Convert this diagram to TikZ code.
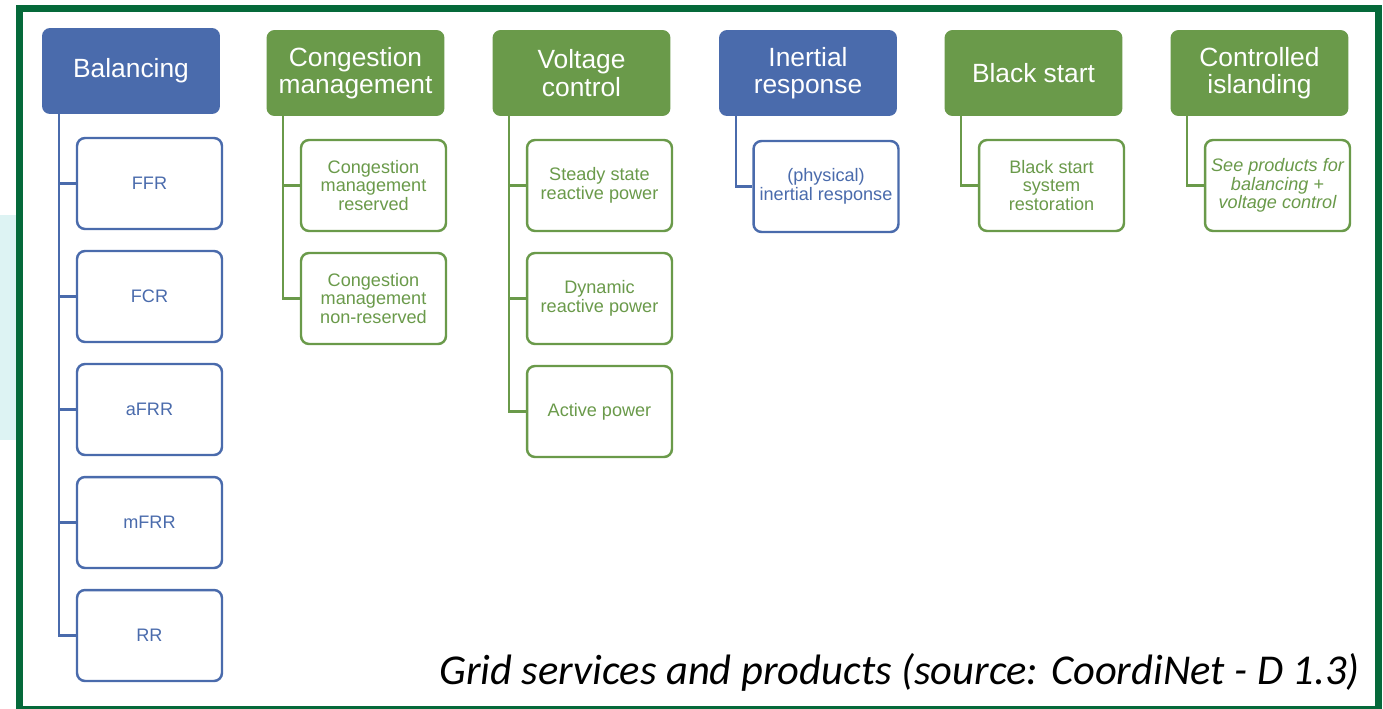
\documentclass[tikz,border=0pt]{standalone}
\usepackage{xcolor}
\usepackage{fontspec}
\setmainfont{Liberation Sans}
\newfontfamily\capfont{Carlito}
\usetikzlibrary{calc}

\definecolor{svcblue}{HTML}{4A6BAC}
\definecolor{svcgreen}{HTML}{6A9A4A}
\definecolor{framegreen}{HTML}{05693A}
\definecolor{bgcyan}{HTML}{DDF3F3}

\begin{document}
\begin{tikzpicture}[x=0.02cm, y=-0.02cm,
  head/.style={rounded corners=0.16cm, minimum width=3.56cm, minimum height=1.72cm,
    text=white, font=\fontsize{15}{15.6}\selectfont, align=center, inner sep=0pt},
  prod/.style={draw=#1, text=#1, rounded corners=0.16cm, line width=1.4pt, fill=white,
    minimum width=2.9cm, minimum height=1.82cm, font=\fontsize{10.3}{10.6}\selectfont,
    align=center, inner sep=0pt},
  link/.style={draw=#1, line width=1.3pt}]
\useasboundingbox (0,0) rectangle (1383,708);
\fill[white] (0,0) rectangle (1383,708);
\fill[bgcyan] (0,215) rectangle (16,440);
\draw[framegreen, line width=3.97pt] (19.5,8.5) rectangle (1378.5,709.5);

\node[head, fill=svcblue] (bal) at (131,71) {Balancing};
\node[head, fill=svcgreen] (cong) at (355.5,73) {Congestion\\management};
\node[head, fill=svcgreen] (volt) at (581.5,73) {Voltage\\control};
\node[head, fill=svcblue] (iner) at (808,73) {Inertial\\response};
\node[head, fill=svcgreen] (black) at (1033.5,73) {Black start};
\node[head, fill=svcgreen] (isl) at (1259.5,73) {Controlled\\islanding};

\foreach \c/\t/\y in {ffr/FFR/183.5, fcr/FCR/296.5, afrr/aFRR/409.5, mfrr/mFRR/522.5, rr/RR/635.5}
  \node[prod=svcblue] (\c) at (149.5,\y) {\t};

\node[prod=svcgreen] (congres) at (373.5,185.5) {Congestion\\management\\reserved};
\node[prod=svcgreen] (congnon) at (373.5,298.5) {Congestion\\management\\non-reserved};

\node[prod=svcgreen] (steady) at (599.5,185.5) {Steady state\\reactive power};
\node[prod=svcgreen] (dyn) at (599.5,298.5) {Dynamic\\reactive power};
\node[prod=svcgreen] (act) at (599.5,411.5) {Active power};

\node[prod=svcblue] (phys) at (826,186.5) {(physical)\\inertial response};
\node[prod=svcgreen] (restore) at (1051.5,185.5) {Black start\\system\\restoration};
\node[prod=svcgreen] (see) at (1277.5,185.5) {\itshape See products for\\\itshape balancing +\\\itshape voltage control};

\foreach \c in {ffr,fcr,afrr,mfrr,rr}
  \path[link=svcblue] ($(bal.south west)+(17,0)$) |- (\c.west);
\foreach \c in {congres,congnon}
  \path[link=svcgreen] ($(cong.south west)+(17,0)$) |- (\c.west);
\foreach \c in {steady,dyn,act}
  \path[link=svcgreen] ($(volt.south west)+(17,0)$) |- (\c.west);
\path[link=svcblue] ($(iner.south west)+(17,0)$) |- (phys.west);
\path[link=svcgreen] ($(black.south west)+(17,0)$) |- (restore.west);
\path[link=svcgreen] ($(isl.south west)+(17,0)$) |- (see.west);

\node[anchor=base east, inner sep=0pt, font=\capfont\itshape\fontsize{24.2}{28}\selectfont] (cap) at (1360,684) {Grid services and products (source: CoordiNet - D 1.3)};
\end{tikzpicture}
\end{document}
